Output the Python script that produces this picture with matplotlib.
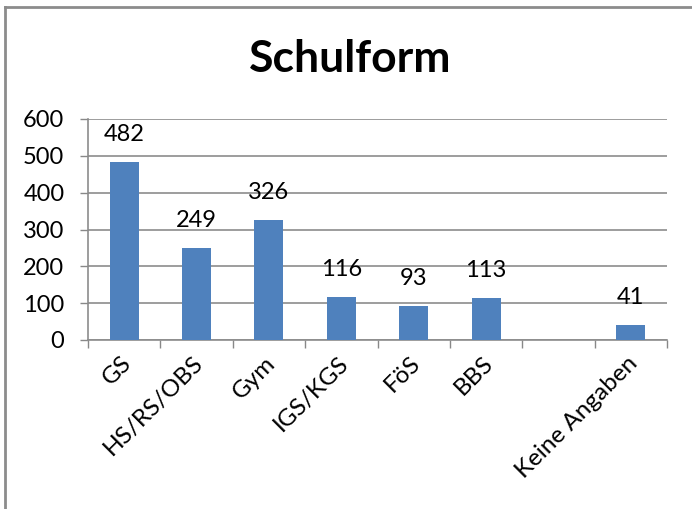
import matplotlib.pyplot as plt
import numpy as np
from matplotlib.lines import Line2D
from matplotlib.transforms import ScaledTranslation

# Daten
categories = ["GS", "HS/RS/OBS", "Gym", "IGS/KGS", "FöS", "BBS", "", "Keine Angaben"]
values = [482, 249, 326, 116, 93, 113, np.nan, 41]
y_ticks = [0, 100, 200, 300, 400, 500, 600]

plt.rcParams["font.family"] = ["Lato", "DejaVu Sans"]

fig = plt.figure(figsize=(6.92, 5.09), dpi=100)
ax = fig.add_axes([88 / 692, 1 - 340 / 509, (667 - 88) / 692, (340 - 119) / 509])

x = np.arange(len(categories))
vals = np.array(values, dtype=float)
mask = ~np.isnan(vals)
bars = ax.bar(x[mask], vals[mask], width=0.4, color="#4F81BD", zorder=3)

for xi, v in zip(x[mask], vals[mask]):
    ax.annotate(f"{int(v)}", (xi, v), xytext=(0, 17), textcoords="offset pixels",
                ha="center", va="bottom", fontsize=17)

ax.set_xlim(-0.5, len(categories) - 0.5)
ax.set_ylim(0, 600)
ax.set_yticks(y_ticks)
ax.tick_params(axis="y", labelsize=17, length=6, color="#888888", width=1, pad=11)
ax.yaxis.grid(True, color="#8c8c8c", linewidth=1.2, zorder=0)

# Kategoriegrenzen als Ticks, Beschriftungen in der Mitte
ax.set_xticks(np.arange(len(categories) + 1) - 0.5)
ax.set_xticklabels([])
ax.set_xticks(x, minor=True)
ax.set_xticklabels(categories, minor=True, rotation=45, ha="right",
                   rotation_mode="anchor", fontsize=17.5)
ax.tick_params(axis="x", which="major", length=6, color="#888888", width=1)
ax.tick_params(axis="x", which="minor", length=0, pad=9)
shift = ScaledTranslation(-4 / 100, 0, fig.dpi_scale_trans)
for lbl in ax.get_xticklabels(minor=True):
    lbl.set_transform(lbl.get_transform() + shift)

for side in ["top", "right"]:
    ax.spines[side].set_visible(False)
for side in ["left", "bottom"]:
    ax.spines[side].set_color("#8c8c8c")
    ax.spines[side].set_linewidth(1.2)

fig.text(350 / 692, 1 - 59 / 509, "Schulform", ha="center", va="center",
         fontsize=32, fontweight="bold")

# Rahmen des Diagramms (oben und links)
fig.add_artist(Line2D([5 / 692, 1], [1 - 7 / 509] * 2, color="#8c8c8c", linewidth=2))
fig.add_artist(Line2D([5 / 692] * 2, [0, 1 - 7 / 509], color="#8c8c8c", linewidth=2))

fig.savefig("out.png", dpi=100)
